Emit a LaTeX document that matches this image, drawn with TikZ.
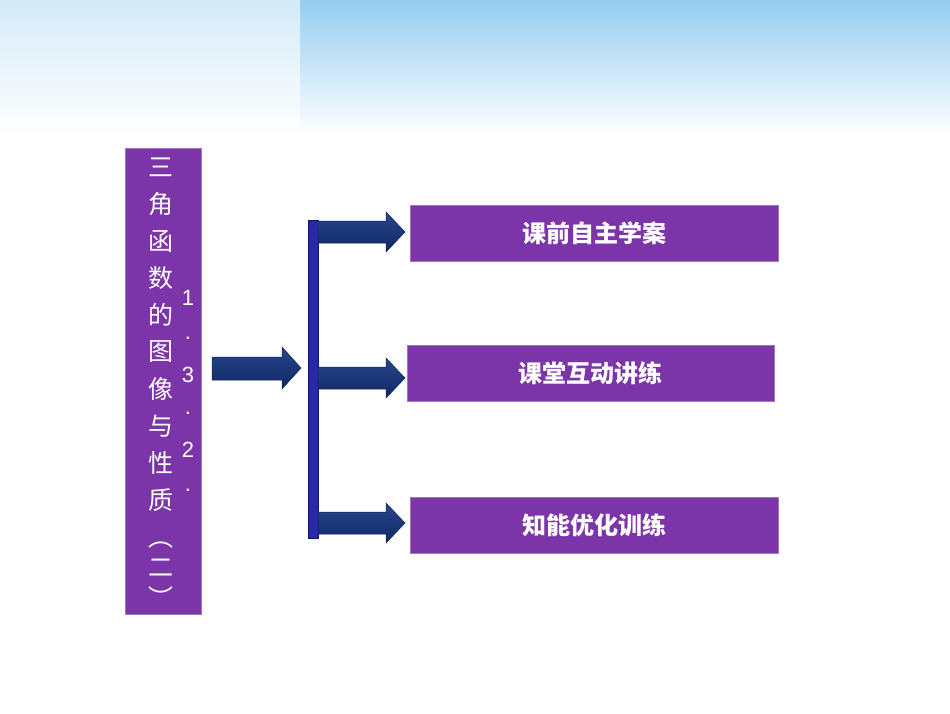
\documentclass[tikz,border=0pt]{standalone}
\usepackage{fontspec}
\newfontfamily\cjk{Noto Sans CJK SC}
\setmainfont{Liberation Sans}
\begin{document}
\begin{tikzpicture}[x=1pt,y=-1pt,
  pbox/.style={fill={rgb,255:red,123;green,53;blue,168},draw={rgb,255:red,160;green,120;blue,190},line width=0.8pt},
  navy/.style={top color={rgb,255:red,40;green,70;blue,140},bottom color={rgb,255:red,15;green,40;blue,100},draw={rgb,255:red,15;green,35;blue,90},line width=0.5pt},
  lbl/.style={font=\cjk\bfseries\fontsize{24}{24}\selectfont,text=white}]
\useasboundingbox (0,0) rectangle (950,713);
\shade[top color={rgb,255:red,150;green,205;blue,240},bottom color=white] (0,0) rectangle (950,135);
\shade[left color=white,right color=white,middle color=white,opacity=0.6] (0,0) rectangle (300,135);
% left box
\node[pbox,minimum width=76,minimum height=466,anchor=north west] (L) at (125,148) {};
\foreach \c [count=\i] in {三,角,函,数,的,图,像,与,性,质}
  \node[text=white,font=\cjk\fontsize{25}{25}\selectfont] (c\i) at (161,130+37*\i) {\c};
\node[text=white,font=\cjk\fontsize{25}{25}\selectfont,rotate=-90] (p1) at (161,537) {（};
\node[text=white,font=\cjk\fontsize{25}{25}\selectfont] (p2) at (161,568) {二};
\node[text=white,font=\cjk\fontsize{25}{25}\selectfont,rotate=-90] (p3) at (161,598) {）};
\foreach \t/\y [count=\i] in {1/298,./338,3/375,./413,2/450,./490}
  \node[text=white,font=\fontsize{22}{22}\selectfont] (n\i) at (188,\y) {\t};
% bar
\node[fill={rgb,255:red,40;green,40;blue,170},draw={rgb,255:red,20;green,20;blue,110},minimum width=10,minimum height=318,inner sep=0,anchor=north west] (bar) at (308,220) {};
% arrows
\draw[navy] (212,357) -- (282,357) -- (282,347) -- (301,368) -- (282,389) -- (282,380) -- (212,380) -- cycle;
\foreach \y in {232,378,523}
  \draw[navy] (318,\y-11) -- (386,\y-11) -- (386,\y-20) -- (405,\y) -- (386,\y+20) -- (386,\y+11) -- (318,\y+11) -- cycle;
% boxes
\node[pbox,minimum width=368,minimum height=56,anchor=north west] (b1) at (410,205) {};
\node[lbl] (t1) at (b1.center) {课前自主学案};
\node[pbox,minimum width=367,minimum height=56,anchor=north west] (b2) at (407,345) {};
\node[lbl] (t2) at (b2.center) {课堂互动讲练};
\node[pbox,minimum width=368,minimum height=56,anchor=north west] (b3) at (410,497) {};
\node[lbl] (t3) at (b3.center) {知能优化训练};
\end{tikzpicture}
\end{document}
